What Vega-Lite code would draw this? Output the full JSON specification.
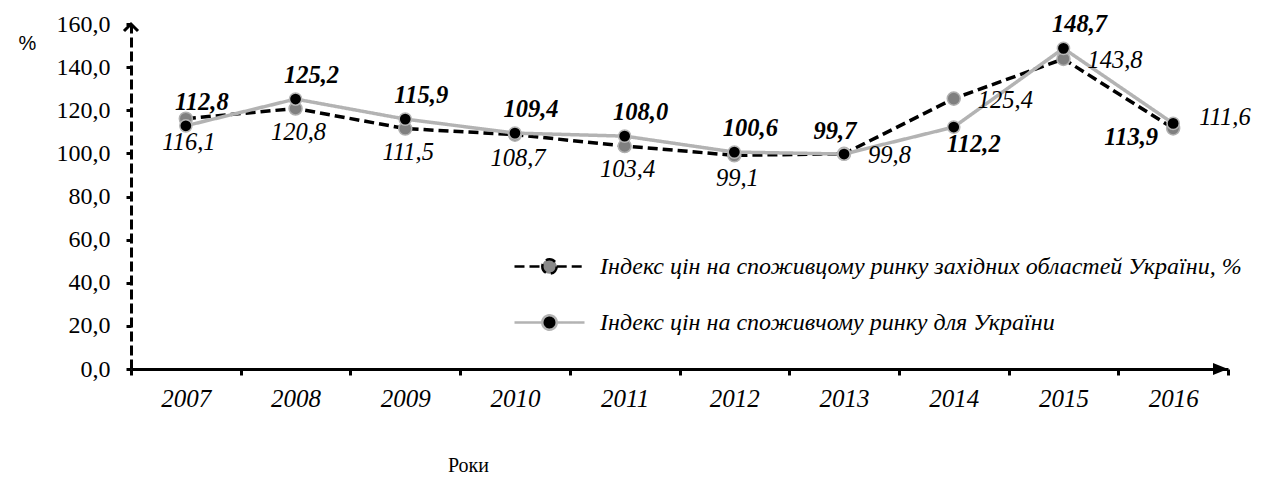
{
  "$schema": "https://vega.github.io/schema/vega-lite/v6.json",
  "width": 1097,
  "height": 345,
  "autosize": "none",
  "padding": {"left": 131, "top": 24, "right": 44, "bottom": 112},
  "background": "white",
  "config": {
    "view": {"stroke": null},
    "font": "Liberation Serif",
    "locale": {"number": {"decimal": ",", "thousands": " ", "grouping": [3], "currency": ["", ""]}}
  },
  "data": {"values": [
    {"year": 2007, "series": "Індекс цін на споживцому ринку західних  областей України, %", "value": 116.1},
    {"year": 2008, "series": "Індекс цін на споживцому ринку західних  областей України, %", "value": 120.8},
    {"year": 2009, "series": "Індекс цін на споживцому ринку західних  областей України, %", "value": 111.5},
    {"year": 2010, "series": "Індекс цін на споживцому ринку західних  областей України, %", "value": 108.7},
    {"year": 2011, "series": "Індекс цін на споживцому ринку західних  областей України, %", "value": 103.4},
    {"year": 2012, "series": "Індекс цін на споживцому ринку західних  областей України, %", "value": 99.1},
    {"year": 2013, "series": "Індекс цін на споживцому ринку західних  областей України, %", "value": 99.8},
    {"year": 2014, "series": "Індекс цін на споживцому ринку західних  областей України, %", "value": 125.4},
    {"year": 2015, "series": "Індекс цін на споживцому ринку західних  областей України, %", "value": 143.8},
    {"year": 2016, "series": "Індекс цін на споживцому ринку західних  областей України, %", "value": 111.6},
    {"year": 2007, "series": "Індекс цін на споживчому ринку для України", "value": 112.8},
    {"year": 2008, "series": "Індекс цін на споживчому ринку для України", "value": 125.2},
    {"year": 2009, "series": "Індекс цін на споживчому ринку для України", "value": 115.9},
    {"year": 2010, "series": "Індекс цін на споживчому ринку для України", "value": 109.4},
    {"year": 2011, "series": "Індекс цін на споживчому ринку для України", "value": 108.0},
    {"year": 2012, "series": "Індекс цін на споживчому ринку для України", "value": 100.6},
    {"year": 2013, "series": "Індекс цін на споживчому ринку для України", "value": 99.7},
    {"year": 2014, "series": "Індекс цін на споживчому ринку для України", "value": 112.2},
    {"year": 2015, "series": "Індекс цін на споживчому ринку для України", "value": 148.7},
    {"year": 2016, "series": "Індекс цін на споживчому ринку для України", "value": 113.9}
  ]},
  "encoding": {
    "x": {
      "field": "year", "type": "ordinal", "bandPosition": 0.5,
      "scale": {"type": "band", "paddingInner": 0, "paddingOuter": 0},
      "axis": {
        "title": "Роки", "titleFont": "Liberation Serif", "titleFontSize": 20, "titleFontWeight": "normal",
        "titleX": 337, "titleY": 96, "titleAlign": "center", "titleBaseline": "middle", "titleColor": "black",
        "labelFont": "Liberation Serif", "labelFontStyle": "italic", "labelFontSize": 25, "labelColor": "black",
        "labelPadding": 11, "labelAngle": 0,
        "domainColor": "black", "domainWidth": 3,
        "tickColor": "black", "tickWidth": 3, "tickSize": 6, "tickBand": "extent", "grid": false
      }
    },
    "y": {
      "field": "value", "type": "quantitative",
      "scale": {"domain": [0, 160], "nice": false},
      "axis": {
        "title": "%", "titleAngle": 0, "titleX": -104, "titleY": 19, "titleAlign": "center", "titleBaseline": "middle",
        "titleFont": "Liberation Sans", "titleFontSize": 20, "titleFontWeight": "normal", "titleColor": "black",
        "values": [0, 20, 40, 60, 80, 100, 120, 140, 160], "format": ".1f",
        "labelFont": "Liberation Serif", "labelFontSize": 24, "labelColor": "black", "labelPadding": 16,
        "tickSize": 5, "tickWidth": 3, "tickColor": "black",
        "domainColor": "black", "domainWidth": 3, "domainDash": [10, 4], "grid": false
      }
    }
  },
  "layer": [
    {
      "mark": {"type": "line", "strokeWidth": 3.5},
      "encoding": {
        "color": {
          "field": "series", "type": "nominal",
          "scale": {"domain": ["Індекс цін на споживцому ринку західних  областей України, %", "Індекс цін на споживчому ринку для України"], "range": ["#000000", "#b3b3b3"]},
          "legend": {
            "title": null, "orient": "none", "legendX": 397, "legendY": 221, "padding": 0, "rowPadding": 22,
            "symbolType": "M -1.75 0 L -0.36 0 M 0.36 0 L 1.75 0 M 0.36 0 A 0.36 0.36 0 1 1 -0.36 0 A 0.36 0.36 0 1 1 0.36 0 Z",
            "symbolSize": 1600, "symbolStrokeWidth": 2.5, "labelOffset": 29,
            "labelFont": "Liberation Serif", "labelFontStyle": "italic", "labelFontSize": 24, "labelColor": "black", "labelLimit": 0,
            "encode": {"symbols": {"update": {"fill": {"signal": "indexof(datum.value, 'західних') >= 0 ? '#8a8a8a' : '#000000'"}, "fillOpacity": {"value": 1}}}}
          }
        },
        "strokeDash": {
          "field": "series", "type": "nominal",
          "scale": {"domain": ["Індекс цін на споживцому ринку західних  областей України, %", "Індекс цін на споживчому ринку для України"], "range": [[10, 5], [1, 0]]},
          "legend": null
        }
      }
    },
    {
      "transform": [{"filter": "indexof(datum.series, 'західних') >= 0"}],
      "mark": {"type": "circle", "fill": "#808080", "stroke": "#b0b0b0", "strokeWidth": 1.5, "size": 170, "opacity": 1}
    },
    {
      "transform": [{"filter": "indexof(datum.series, 'західних') < 0"}],
      "mark": {"type": "circle", "fill": "#000000", "stroke": "#b8b8b8", "strokeWidth": 1.5, "size": 150, "opacity": 1}
    },
    {
      "transform": [{"filter": "indexof(datum.series, 'західних') < 0 && indexof([2007, 2008, 2009, 2010, 2011, 2012, 2015], datum.year) >= 0"}],
      "mark": {"type": "text", "font": "Liberation Serif", "fontStyle": "italic", "fontWeight": "bold", "fontSize": 24.5, "color": "black", "dx": 16, "dy": -23, "baseline": "middle"},
      "encoding": {"text": {"field": "value", "type": "quantitative", "format": ".1f"}}
    },
    {
      "transform": [{"filter": "indexof(datum.series, 'західних') < 0 && datum.year == 2013"}],
      "mark": {"type": "text", "font": "Liberation Serif", "fontStyle": "italic", "fontWeight": "bold", "fontSize": 24.5, "color": "black", "dx": -9, "dy": -22, "baseline": "middle"},
      "encoding": {"text": {"field": "value", "type": "quantitative", "format": ".1f"}}
    },
    {
      "transform": [{"filter": "indexof(datum.series, 'західних') < 0 && datum.year == 2014"}],
      "mark": {"type": "text", "font": "Liberation Serif", "fontStyle": "italic", "fontWeight": "bold", "fontSize": 24.5, "color": "black", "dx": 20, "dy": 18, "baseline": "middle"},
      "encoding": {"text": {"field": "value", "type": "quantitative", "format": ".1f"}}
    },
    {
      "transform": [{"filter": "indexof(datum.series, 'західних') < 0 && datum.year == 2016"}],
      "mark": {"type": "text", "font": "Liberation Serif", "fontStyle": "italic", "fontWeight": "bold", "fontSize": 24.5, "color": "black", "dx": -42, "dy": 15, "baseline": "middle"},
      "encoding": {"text": {"field": "value", "type": "quantitative", "format": ".1f"}}
    },
    {
      "transform": [{"filter": "indexof(datum.series, 'західних') >= 0 && datum.year <= 2012"}],
      "mark": {"type": "text", "font": "Liberation Serif", "fontStyle": "italic", "fontSize": 24.5, "color": "black", "dx": 3, "dy": 24, "baseline": "middle"},
      "encoding": {"text": {"field": "value", "type": "quantitative", "format": ".1f"}}
    },
    {
      "transform": [{"filter": "indexof(datum.series, 'західних') >= 0 && datum.year >= 2013 && datum.year <= 2015"}],
      "mark": {"type": "text", "font": "Liberation Serif", "fontStyle": "italic", "fontSize": 24.5, "color": "black", "dx": 24, "dy": 2, "align": "left", "baseline": "middle"},
      "encoding": {"text": {"field": "value", "type": "quantitative", "format": ".1f"}}
    },
    {
      "transform": [{"filter": "indexof(datum.series, 'західних') >= 0 && datum.year == 2016"}],
      "mark": {"type": "text", "font": "Liberation Serif", "fontStyle": "italic", "fontSize": 24.5, "color": "black", "dx": 26, "dy": -10, "align": "left", "baseline": "middle"},
      "encoding": {"text": {"field": "value", "type": "quantitative", "format": ".1f"}}
    },
    {
      "data": {"values": [{"year": 2007, "value": 160}]},
      "mark": {"type": "point", "shape": "M -1 1 L 0 0 L 1 1", "filled": false, "stroke": "black", "strokeWidth": 3, "size": 196, "opacity": 1},
      "encoding": {"x": {"field": "year", "type": "ordinal", "bandPosition": 0}}
    },
    {
      "data": {"values": [{"year": 2016, "value": 0}]},
      "mark": {"type": "point", "shape": "M 0 0 L -2 -0.8 L -2 0.8 Z", "filled": true, "fill": "black", "strokeWidth": 0, "size": 225, "opacity": 1},
      "encoding": {"x": {"field": "year", "type": "ordinal", "bandPosition": 1}}
    }
  ]
}
